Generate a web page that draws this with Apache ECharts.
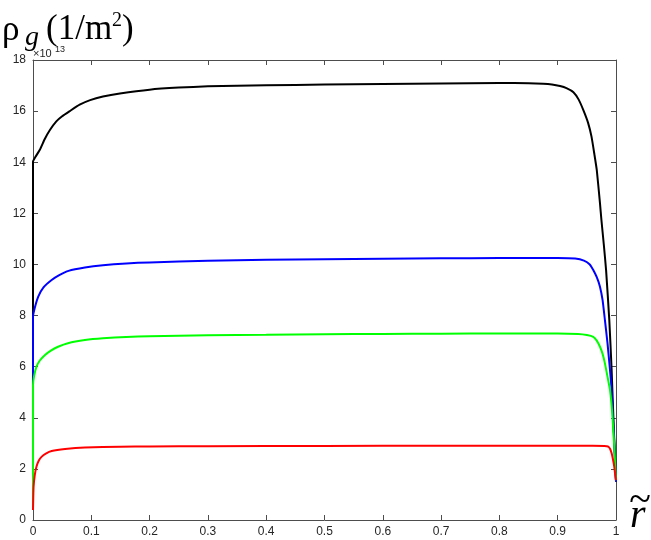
<!DOCTYPE html>
<html>
<head>
<meta charset="utf-8">
<script src="https://cdn.jsdelivr.net/npm/echarts@6/dist/echarts.min.js"></script>
<style>
  html, body { margin: 0; padding: 0; background: #fff; }
  #chart { width: 651px; height: 540px; }
</style>
</head>
<body>
<div id="chart"></div>
<script>
// 坐标轴刻度标签
const xTickLabels = ["0", "0.1", "0.2", "0.3", "0.4", "0.5", "0.6", "0.7", "0.8", "0.9", "1"];
const yTickLabels = ["0", "2", "4", "6", "8", "10", "12", "14", "16", "18"];

// 黑色曲线
const blackX = [0, 0, 0.004, 0.012, 0.02, 0.029, 0.04, 0.05, 0.063, 0.08, 0.098, 0.12, 0.149, 0.2, 0.25, 0.3, 0.4, 0.5, 0.6, 0.7, 0.8, 0.85, 0.875, 0.89, 0.904, 0.915, 0.927, 0.936, 0.944, 0.952, 0.958, 0.963, 0.967, 0.9725, 0.975, 0.979, 0.983, 0.9885, 0.9925, 0.996, 1];
const blackY = [0.4, 14.02, 14.2, 14.5, 14.9, 15.26, 15.6, 15.8, 16.0, 16.25, 16.43, 16.57, 16.69, 16.84, 16.92, 16.97, 17.01, 17.04, 17.06, 17.08, 17.1, 17.09, 17.07, 17.04, 16.98, 16.9, 16.74, 16.45, 16.04, 15.55, 15.0, 14.3, 13.7, 12.4, 11.74, 10.8, 9.78, 7.82, 5.87, 3.7, 1.5];

// 蓝色曲线
const blueX = [0, 0, 0.003, 0.009, 0.018, 0.032, 0.045, 0.061, 0.089, 0.12, 0.16, 0.2, 0.3, 0.4, 0.5, 0.6, 0.7, 0.8, 0.9, 0.93, 0.945, 0.955, 0.961, 0.967, 0.9725, 0.977, 0.981, 0.9855, 0.9897, 0.9925, 0.996, 1];
const blueY = [0.4, 7.96, 8.3, 8.74, 9.1, 9.39, 9.58, 9.75, 9.88, 9.97, 10.04, 10.08, 10.14, 10.18, 10.2, 10.22, 10.24, 10.25, 10.25, 10.23, 10.15, 10.0, 9.78, 9.5, 9.13, 8.6, 7.82, 6.9, 5.87, 5.09, 3.5, 1.5];

// 绿色曲线
const greenX = [0, 0, 0.002, 0.006, 0.012, 0.0206, 0.03, 0.043, 0.06, 0.089, 0.12, 0.16, 0.2, 0.3, 0.4, 0.5, 0.6, 0.7, 0.8, 0.9, 0.935, 0.95, 0.961, 0.967, 0.9725, 0.977, 0.981, 0.9855, 0.9897, 0.9935, 0.997, 1];
const greenY = [0.4, 5.28, 5.65, 6.0, 6.25, 6.46, 6.62, 6.78, 6.92, 7.04, 7.11, 7.16, 7.19, 7.23, 7.25, 7.27, 7.28, 7.29, 7.3, 7.3, 7.28, 7.24, 7.17, 7.02, 6.78, 6.5, 6.13, 5.6, 5.09, 4.2, 2.87, 1.56];

// 红色曲线
const redX = [0, 0.001, 0.003, 0.006, 0.01, 0.015, 0.022, 0.032, 0.055, 0.089, 0.15, 0.2, 0.3, 0.5, 0.7, 0.8, 0.9, 0.96, 0.98, 0.984, 0.987, 0.99, 0.9925, 0.995, 0.997, 0.9985, 1];
const redY = [0.39, 1.3, 1.75, 2.09, 2.33, 2.48, 2.6, 2.7, 2.78, 2.84, 2.87, 2.88, 2.89, 2.9, 2.91, 2.91, 2.91, 2.91, 2.9, 2.89, 2.87, 2.78, 2.61, 2.35, 2.09, 1.8, 1.56];

// 把x和y拼成点
function zip(xs, ys) {
  return xs.map((x, i) => [x, ys[i]]);
}

const axisColor = "#4d4d4d";
const labelFont = "'Liberation Sans', Arial, sans-serif";
const serif = "'Liberation Serif', 'Times New Roman', serif";

function makeSeries(name, xs, ys, color) {
  return {
    name: name,
    type: "line",
    data: zip(xs, ys),
    showSymbol: false,
    symbol: "none",
    smooth: 0.15,
    lineStyle: { color: color, width: 2 },
    animation: false,
  };
}

// 坐标轴公共配置(四周都有框线和向内刻度)
function xAxisOf(position, showLabel) {
  return {
    type: "value",
    position: position,
    min: 0,
    max: 1,
    interval: 0.1,
    axisLine: { show: true, onZero: false, lineStyle: { color: axisColor, width: 1 } },
    axisTick: { show: true, inside: true, length: 5, lineStyle: { color: axisColor } },
    axisLabel: {
      show: showLabel,
      margin: 6,
      color: "#262626",
      fontSize: 12,
      fontFamily: labelFont,
      formatter: (v) => xTickLabels[Math.round(v * 10)],
    },
    splitLine: { show: false },
  };
}

function yAxisOf(position, showLabel) {
  return {
    type: "value",
    position: position,
    min: 0,
    max: 18,
    interval: 2,
    axisLine: { show: true, onZero: false, lineStyle: { color: axisColor, width: 1 } },
    axisTick: { show: true, inside: true, length: 5, lineStyle: { color: axisColor } },
    axisLabel: {
      show: showLabel,
      margin: 7,
      color: "#262626",
      fontSize: 12,
      fontFamily: labelFont,
      formatter: (v) => yTickLabels[Math.round(v / 2)],
    },
    splitLine: { show: false },
  };
}

const option = {
  backgroundColor: "#fff",
  animation: false,
  grid: { left: 33, right: 35, top: 60, bottom: 20, containLabel: false },
  xAxis: [xAxisOf("bottom", true), xAxisOf("top", false)],
  yAxis: [yAxisOf("left", true), yAxisOf("right", false)],
  graphic: [
    { type: "text", x: 2, y: 31, style: { text: "ρ", font: "35px " + serif, fill: "#000", verticalAlign: "middle" } },
    { type: "text", x: 25, y: 38, style: { text: "g", font: "italic 28px " + serif, fill: "#000", verticalAlign: "middle" } },
    { type: "text", x: 46, y: 30, style: { text: "(1/m", font: "35px " + serif, fill: "#000", verticalAlign: "middle" } },
    { type: "text", x: 112, y: 21, style: { text: "2", font: "20px " + serif, fill: "#000", verticalAlign: "middle" } },
    { type: "text", x: 122, y: 30, style: { text: ")", font: "35px " + serif, fill: "#000", verticalAlign: "middle" } },
    { type: "text", x: 33, y: 54, style: { text: "×10", font: "11px " + labelFont, fill: "#262626", verticalAlign: "middle" } },
    { type: "text", x: 55, y: 50, style: { text: "13", font: "9px " + labelFont, fill: "#262626", verticalAlign: "middle" } },
    { type: "text", x: 630, y: 516, style: { text: "r", font: "italic 40px " + serif, fill: "#000", verticalAlign: "middle" } },
    { type: "text", x: 640, y: 501, style: { text: "~", font: "40px " + serif, fill: "#000", align: "center", verticalAlign: "middle" } },
  ],
  series: [
    makeSeries("black", blackX, blackY, "#000000"),
    makeSeries("blue", blueX, blueY, "#0000ff"),
    makeSeries("green", greenX, greenY, "#00ff00"),
    makeSeries("red", redX, redY, "#ff0000"),
  ],
};

const chart = echarts.init(document.getElementById("chart"), null, { renderer: "canvas" });
chart.setOption(option);
</script>
</body>
</html>
